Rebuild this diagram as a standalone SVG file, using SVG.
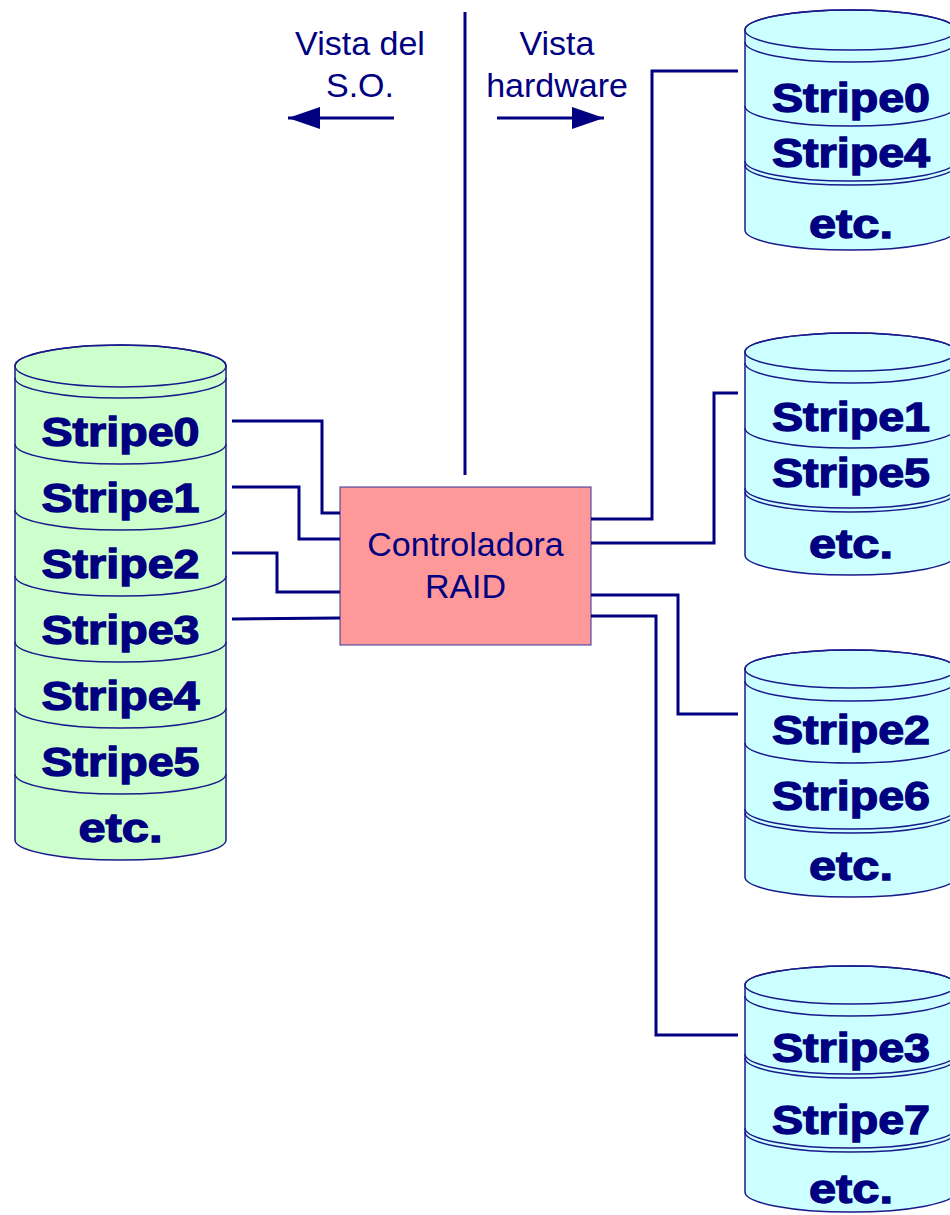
<svg xmlns="http://www.w3.org/2000/svg" width="950" height="1215" viewBox="0 0 950 1215">
  <style>
    .wire { fill: none; stroke: #000080; stroke-width: 3; stroke-linejoin: miter; }
    .edge { fill: none; stroke: #1a1a8c; stroke-width: 1.5; }
    .bodyL { fill: #ccffcc; stroke: #1a1a8c; stroke-width: 1.5; }
    .bodyR { fill: #ccffff; stroke: #1a1a8c; stroke-width: 1.5; }
    .lbl { font-family: "Liberation Sans", Arial, sans-serif; font-weight: bold; font-size: 40px; fill: #000080; stroke: #000080; stroke-width: 1.3; text-anchor: middle; }
    .note { font-family: "Liberation Sans", Arial, sans-serif; font-size: 34px; fill: #000080; text-anchor: middle; }
  </style>
  <defs>
    <marker id="head" markerUnits="userSpaceOnUse" markerWidth="34" markerHeight="24" refX="32" refY="11" orient="auto">
      <path d="M0,0 L32,11 L0,22 Z" fill="#000080"/>
    </marker>
  </defs>

  <rect width="950" height="1215" fill="#ffffff"/>

  <!-- Left: logical disk as seen by the OS -->
  <g id="disk-logical">
    <path class="bodyL" d="M15,366 L15,840 A105.5,20 0 0 0 226,840 L226,366 A105.5,21 0 0 0 15,366 Z"/>
    <ellipse class="edge" cx="120.5" cy="366" rx="105.5" ry="21"/>
    <path class="edge" d="M15,378 A105.5,20 0 0 0 226,378"/>
    <path class="edge" d="M15,444 A105.5,20 0 0 0 226,444"/>
    <path class="edge" d="M15,510 A105.5,20 0 0 0 226,510"/>
    <path class="edge" d="M15,576 A105.5,20 0 0 0 226,576"/>
    <path class="edge" d="M15,642 A105.5,20 0 0 0 226,642"/>
    <path class="edge" d="M15,708 A105.5,20 0 0 0 226,708"/>
    <path class="edge" d="M15,774 A105.5,20 0 0 0 226,774"/>
    <text class="lbl" x="120.5" y="446" textLength="158" lengthAdjust="spacingAndGlyphs">Stripe0</text>
    <text class="lbl" x="120.5" y="512" textLength="158" lengthAdjust="spacingAndGlyphs">Stripe1</text>
    <text class="lbl" x="120.5" y="578" textLength="158" lengthAdjust="spacingAndGlyphs">Stripe2</text>
    <text class="lbl" x="120.5" y="644" textLength="158" lengthAdjust="spacingAndGlyphs">Stripe3</text>
    <text class="lbl" x="120.5" y="710" textLength="158" lengthAdjust="spacingAndGlyphs">Stripe4</text>
    <text class="lbl" x="120.5" y="776" textLength="158" lengthAdjust="spacingAndGlyphs">Stripe5</text>
    <text class="lbl" x="120.5" y="842" textLength="84" lengthAdjust="spacingAndGlyphs">etc.</text>
  </g>

  <!-- Controller -->
  <g id="controller">
    <rect x="340" y="487" width="251" height="158" fill="#ff9999" stroke="#333399" stroke-width="1"/>
    <text class="note" x="465.5" y="556">Controladora</text>
    <text class="note" x="465.5" y="598">RAID</text>
  </g>

  <!-- View labels -->
  <g id="view-os">
    <text class="note" x="360" y="55">Vista del</text>
    <text class="note" x="360" y="97">S.O.</text>
  </g>
  <g id="view-hw">
    <text class="note" x="557" y="55">Vista</text>
    <text class="note" x="557" y="97">hardware</text>
  </g>

  <!-- Physical disk 1 -->
  <g id="disk-1">
    <path class="bodyR" d="M745,30 L745,230 A105.5,20 0 0 0 956,230 L956,30 A105.5,20 0 0 0 745,30 Z"/>
    <ellipse class="edge" cx="850.5" cy="30" rx="105.5" ry="20"/>
    <path class="edge" d="M745,42 A105.5,20 0 0 0 956,42"/>
    <path class="edge" d="M745,106 A105.5,20 0 0 0 956,106"/>
    <path class="edge" d="M745,161 A105.5,20 0 0 0 956,161"/>
    <path class="edge" d="M745,165 A105.5,20 0 0 0 956,165"/>
    <text class="lbl" x="851" y="112" textLength="158" lengthAdjust="spacingAndGlyphs">Stripe0</text>
    <text class="lbl" x="851" y="167" textLength="158" lengthAdjust="spacingAndGlyphs">Stripe4</text>
    <text class="lbl" x="851" y="238" textLength="84" lengthAdjust="spacingAndGlyphs">etc.</text>
  </g>

  <!-- Physical disk 2 -->
  <g id="disk-2">
    <path class="bodyR" d="M745,352 L745,555 A105.5,20 0 0 0 956,555 L956,352 A105.5,19 0 0 0 745,352 Z"/>
    <ellipse class="edge" cx="850.5" cy="352" rx="105.5" ry="19"/>
    <path class="edge" d="M745,363 A105.5,20 0 0 0 956,363"/>
    <path class="edge" d="M745,428 A105.5,20 0 0 0 956,428"/>
    <path class="edge" d="M745,488 A105.5,20 0 0 0 956,488"/>
    <path class="edge" d="M745,492 A105.5,20 0 0 0 956,492"/>
    <text class="lbl" x="851" y="431" textLength="158" lengthAdjust="spacingAndGlyphs">Stripe1</text>
    <text class="lbl" x="851" y="487" textLength="158" lengthAdjust="spacingAndGlyphs">Stripe5</text>
    <text class="lbl" x="851" y="558" textLength="84" lengthAdjust="spacingAndGlyphs">etc.</text>
  </g>

  <!-- Physical disk 3 -->
  <g id="disk-3">
    <path class="bodyR" d="M745,669 L745,877 A105.5,20 0 0 0 956,877 L956,669 A105.5,19 0 0 0 745,669 Z"/>
    <ellipse class="edge" cx="850.5" cy="669" rx="105.5" ry="19"/>
    <path class="edge" d="M745,681 A105.5,20 0 0 0 956,681"/>
    <path class="edge" d="M745,743 A105.5,20 0 0 0 956,743"/>
    <path class="edge" d="M745,809 A105.5,20 0 0 0 956,809"/>
    <path class="edge" d="M745,813 A105.5,20 0 0 0 956,813"/>
    <text class="lbl" x="851" y="744" textLength="158" lengthAdjust="spacingAndGlyphs">Stripe2</text>
    <text class="lbl" x="851" y="810" textLength="158" lengthAdjust="spacingAndGlyphs">Stripe6</text>
    <text class="lbl" x="851" y="880" textLength="84" lengthAdjust="spacingAndGlyphs">etc.</text>
  </g>

  <!-- Physical disk 4 -->
  <g id="disk-4">
    <path class="bodyR" d="M745,985 L745,1192 A105.5,20 0 0 0 956,1192 L956,985 A105.5,19 0 0 0 745,985 Z"/>
    <ellipse class="edge" cx="850.5" cy="985" rx="105.5" ry="19"/>
    <path class="edge" d="M745,996 A105.5,20 0 0 0 956,996"/>
    <path class="edge" d="M745,1054 A105.5,20 0 0 0 956,1054"/>
    <path class="edge" d="M745,1058 A105.5,20 0 0 0 956,1058"/>
    <path class="edge" d="M745,1128 A105.5,20 0 0 0 956,1128"/>
    <path class="edge" d="M745,1132 A105.5,20 0 0 0 956,1132"/>
    <text class="lbl" x="851" y="1062" textLength="158" lengthAdjust="spacingAndGlyphs">Stripe3</text>
    <text class="lbl" x="851" y="1134" textLength="158" lengthAdjust="spacingAndGlyphs">Stripe7</text>
    <text class="lbl" x="851" y="1203" textLength="84" lengthAdjust="spacingAndGlyphs">etc.</text>
  </g>

  <!-- Wiring, divider and view arrows -->
  <g id="connectors">
    <line class="wire" x1="465" y1="12" x2="465" y2="475"/>
    <line class="wire" x1="394" y1="118" x2="288" y2="118" marker-end="url(#head)"/>
    <line class="wire" x1="497" y1="118" x2="604" y2="118" marker-end="url(#head)"/>

    <polyline class="wire" points="232,421 322,421 322,513 340,513"/>
    <polyline class="wire" points="232,487 299,487 299,539 340,539"/>
    <polyline class="wire" points="232,553 277,553 277,592 340,592"/>
    <polyline class="wire" points="232,619 340,618"/>

    <polyline class="wire" points="591,519 652,519 652,71 738,71"/>
    <polyline class="wire" points="591,543 714,543 714,393 738,393"/>
    <polyline class="wire" points="591,595 678,595 678,714 738,714"/>
    <polyline class="wire" points="591,616 656,616 656,1035 738,1035"/>
  </g>
</svg>
